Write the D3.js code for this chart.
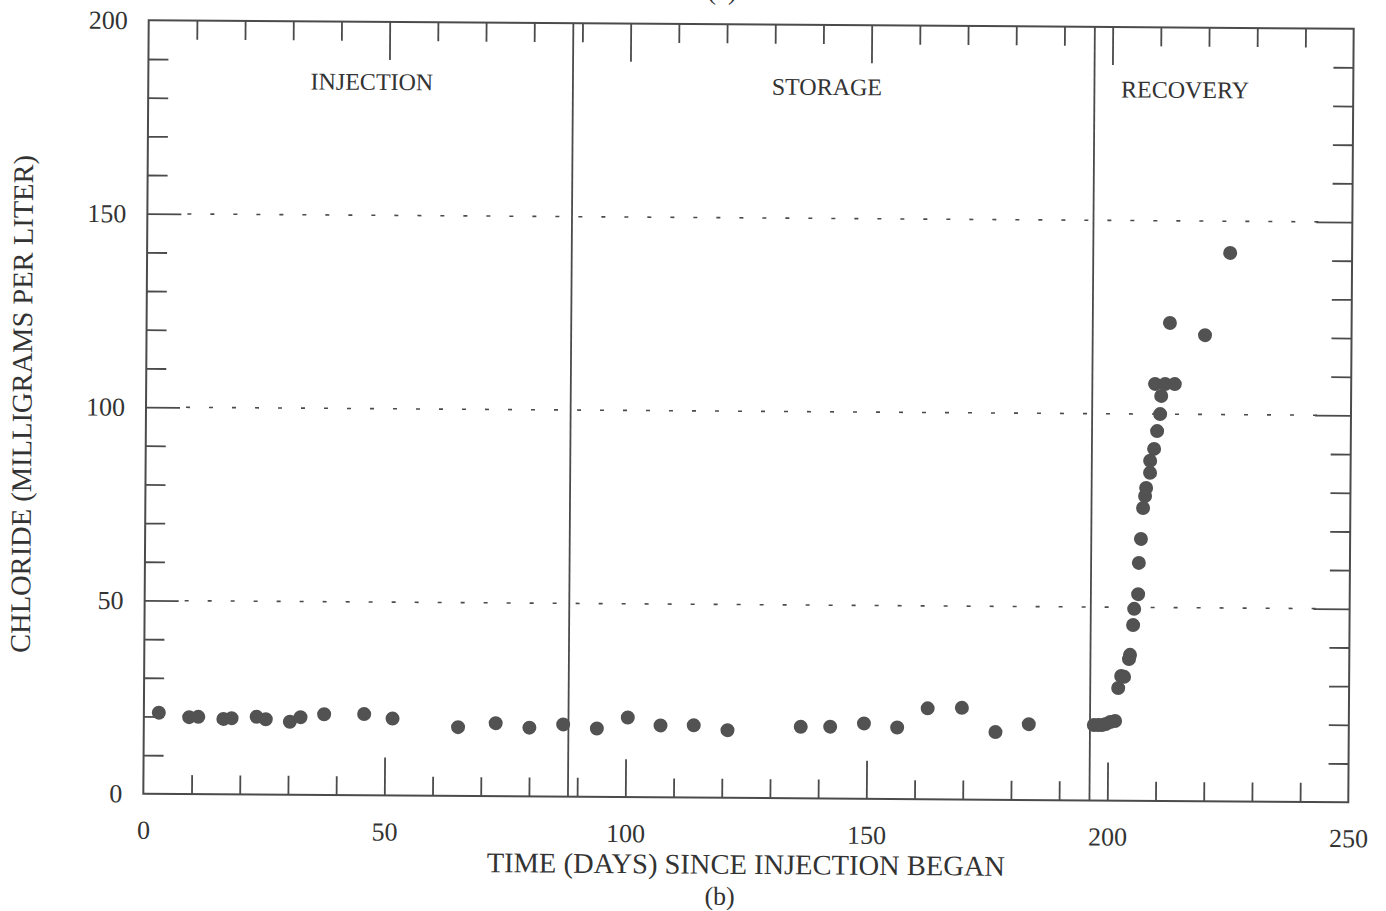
<!DOCTYPE html>
<html>
<head>
<meta charset="utf-8">
<script src="https://cdn.jsdelivr.net/npm/d3@7"></script>
<style>
  html, body { margin: 0; padding: 0; background: #fff; }
  svg { display: block; }
  text { font-family: "Liberation Serif", "Times New Roman", serif; fill: #333; }
</style>
</head>
<body>
<script>
// ---- data ----
const days = [3.1, 9.4, 11.3, 16.5, 18.2, 23.4, 25.3, 30.3, 32.5, 37.4, 45.7, 51.6, 65.2, 73.0, 80.0, 87.0,
  94.0, 100.4, 107.2, 114.1, 121.1, 136.3, 142.4, 149.4, 156.3, 162.6, 169.7, 176.7, 183.6,
  197.1, 198.0, 198.8, 199.6, 200.5, 201.5, 202.1, 202.7, 203.3, 204.3, 204.5, 205.1, 205.3, 206.1, 206.2,
  206.6, 207.0, 207.4, 207.6, 208.4, 208.4, 209.2, 209.8, 210.4, 210.6, 209.3, 211.4, 213.4, 212.3, 219.6, 224.7];
const chloride = [21.0, 19.9, 20.0, 19.5, 19.7, 20.1, 19.5, 18.9, 20.1, 20.9, 21.0, 19.9, 17.8, 18.9, 17.8, 18.7,
  17.7, 20.6, 18.6, 18.7, 17.5, 18.5, 18.6, 19.5, 18.5, 23.5, 23.7, 17.5, 19.6,
  19.5, 19.5, 19.5, 19.8, 20.3, 20.6, 29.1, 32.2, 32.0, 36.6, 37.7, 45.4, 49.6, 53.4, 61.5,
  67.7, 75.7, 78.8, 80.9, 84.8, 87.9, 91.0, 95.6, 100.0, 104.7, 107.8, 107.8, 107.8, 123.6, 120.5, 141.8];
const phaseBoundaries = [88.1, 196.3];
const phaseLabels = ["INJECTION", "STORAGE", "RECOVERY"];
const phaseLabelDays = [46.4, 140.8, 215.1];
const phaseLabelValues = [182.4, 181.9, 181.8];
const xTickLabels = [0, 50, 100, 150, 200, 250];
const yTickLabels = [0, 50, 100, 150, 200];
const xMajorTicks = [50, 100, 150, 200];
const xMinorTicks = [10, 20, 30, 40, 60, 70, 80, 90, 110, 120, 130, 140, 160, 170, 180, 190, 210, 220, 230, 240];
const yMajorTicks = [50, 100, 150];
const yMinorTicks = [10, 20, 30, 40, 60, 70, 80, 90, 110, 120, 130, 140, 160, 170, 180, 190];
const gridValues = [50, 100, 150];
const xTitle = "TIME (DAYS) SINCE INJECTION BEGAN";
const yTitle = "CHLORIDE (MILLIGRAMS PER LITER)";
const panelLabel = "(b)";
const topPanelLabel = "(a)";

// ---- layout ----
const W = 1386, H = 911;
const L = 146, R = 1351, T = 24.5, B = 798;
const ink = "#4b4b4b";

const x = d3.scaleLinear().domain([0, 250]).range([L, R]);
const y = d3.scaleLinear().domain([0, 200]).range([B, T]);

const svg = d3.select("body").append("svg").attr("width", W).attr("height", H);
svg.append("rect").attr("width", W).attr("height", H).attr("fill", "#fff");

// partially visible label of the panel above (cut off in the reference as well)
svg.append("text").attr("x", 722).attr("y", -1).attr("text-anchor", "middle")
  .attr("font-size", 27).text(topPanelLabel);

const g = svg.append("g").attr("transform", "rotate(0.4,748.5,411.25)");

// dotted grid lines
g.selectAll("line.grid").data(gridValues).join("line")
  .attr("class", "grid")
  .attr("x1", x(0) + 34).attr("x2", x(250) - 34)
  .attr("y1", d => y(d)).attr("y2", d => y(d))
  .attr("stroke", ink).attr("stroke-width", 1.6)
  .attr("stroke-dasharray", "4,19").attr("stroke-dashoffset", -6);

function tickAxis(axisFn, scale, values, size, transform) {
  const a = g.append("g").attr("transform", transform)
    .call(axisFn(scale).tickValues(values).tickSize(-size).tickFormat(""));
  a.select(".domain").remove();
  a.selectAll("line").attr("stroke", ink).attr("stroke-width", 1.8);
  return a;
}
tickAxis(d3.axisBottom, x, xMinorTicks, 19, `translate(0,${B})`);
tickAxis(d3.axisBottom, x, xMajorTicks, 38, `translate(0,${B})`);
tickAxis(d3.axisTop, x, xMinorTicks, 19, `translate(0,${T})`);
tickAxis(d3.axisTop, x, xMajorTicks, 38, `translate(0,${T})`);
tickAxis(d3.axisLeft, y, yMinorTicks, 20, `translate(${L},0)`);
tickAxis(d3.axisLeft, y, yMajorTicks, 34, `translate(${L},0)`);
tickAxis(d3.axisRight, y, yMinorTicks, 20, `translate(${R},0)`);
tickAxis(d3.axisRight, y, yMajorTicks, 36, `translate(${R},0)`);

// frame
g.append("rect").attr("x", L).attr("y", T).attr("width", R - L).attr("height", B - T)
  .attr("fill", "none").attr("stroke", ink).attr("stroke-width", 2);

// phase boundaries
g.selectAll("line.phase").data(phaseBoundaries).join("line")
  .attr("class", "phase")
  .attr("x1", d => x(d)).attr("x2", d => x(d))
  .attr("y1", T).attr("y2", B)
  .attr("stroke", ink).attr("stroke-width", 1.8);

// phase labels
g.selectAll("text.phaseLabel").data(phaseLabels).join("text")
  .attr("class", "phaseLabel")
  .attr("x", (d, i) => x(phaseLabelDays[i]))
  .attr("y", (d, i) => y(phaseLabelValues[i]))
  .attr("text-anchor", "middle").attr("font-size", 24)
  .text(d => d);

// tick labels
const xl = g.append("g").attr("transform", `translate(0,${B})`)
  .call(d3.axisBottom(x).tickValues(xTickLabels).tickSize(0).tickFormat(d3.format("d")));
xl.select(".domain").remove();
xl.selectAll("text").attr("dy", null).attr("y", 45).attr("font-size", 26)
  .attr("font-family", '"Liberation Serif", serif').attr("fill", "#333");

const yl = g.append("g").attr("transform", `translate(${L},0)`)
  .call(d3.axisLeft(y).tickValues(yTickLabels).tickSize(0).tickPadding(21).tickFormat(d3.format("d")));
yl.select(".domain").remove();
yl.selectAll("text").attr("font-size", 26)
  .attr("font-family", '"Liberation Serif", serif').attr("fill", "#333");

// points
g.selectAll("circle.pt").data(days).join("circle")
  .attr("class", "pt")
  .attr("cx", d => x(d))
  .attr("cy", (d, i) => y(chloride[i]))
  .attr("r", 7)
  .attr("fill", "#525252");

// titles
g.append("text").attr("x", 749).attr("y", 874).attr("text-anchor", "middle")
  .attr("font-size", 28.5).text(xTitle);
g.append("text").attr("x", 723).attr("y", 905).attr("text-anchor", "middle")
  .attr("font-size", 26).text(panelLabel);
g.append("text").attr("transform", "translate(31.5,409) rotate(-90)")
  .attr("text-anchor", "middle").attr("font-size", 28.5).text(yTitle);
</script>
</body>
</html>
